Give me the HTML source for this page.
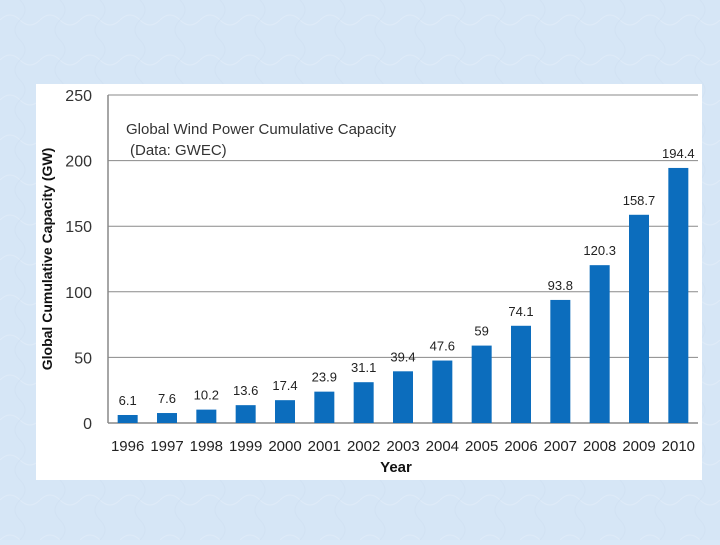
<!DOCTYPE html>
<html><head><meta charset="utf-8"><style>
body{margin:0;width:720px;height:540px;overflow:hidden;background:#d9e8f7;font-family:"Liberation Sans",sans-serif;}
</style></head><body>
<svg width="720" height="540">
<defs><pattern id="p" width="40" height="40" patternUnits="userSpaceOnUse"><rect width="40" height="40" fill="#d6e6f6"/><path d="M0 20 Q10 10 20 20 T40 20" stroke="#dfebf8" fill="none"/><path d="M20 0 Q30 10 20 20 T20 40" stroke="#d2e2f3" fill="none"/></pattern></defs>
<rect width="720" height="540" fill="url(#p)"/>
<rect x="36" y="84" width="666" height="396" fill="#fff"/>
<g id="grid"></g>
<g id="bars"></g>
<g id="ticks" font-size="16" fill="#333"></g>
<text x="126" y="134" font-size="15" fill="#333">Global Wind Power Cumulative Capacity</text>
<text x="130" y="155" font-size="15" fill="#333">(Data: GWEC)</text>
<text transform="translate(52,259) rotate(-90)" text-anchor="middle" font-size="14" font-weight="bold" fill="#111">Global Cumulative Capacity (GW)</text>
<text x="396" y="472" text-anchor="middle" font-size="15" font-weight="bold" fill="#111">Year</text>
</svg>
<script>
const years=["1996","1997","1998","1999","2000","2001","2002","2003","2004","2005","2006","2007","2008","2009","2010"];
const values=[6.1,7.6,10.2,13.6,17.4,23.9,31.1,39.4,47.6,59,74.1,93.8,120.3,158.7,194.4];
const labels=["6.1","7.6","10.2","13.6","17.4","23.9","31.1","39.4","47.6","59","74.1","93.8","120.3","158.7","194.4"];
const yTicks=[0,50,100,150,200,250];
const NS="http://www.w3.org/2000/svg";
const X0=108,X1=698,Y0=423,Y1=95,YMAX=250;
const y=v=>Y0-(v/YMAX)*(Y0-Y1);
const bw=(X1-X0)/years.length;
const x=i=>X0+bw*(i+0.5);
function mk(t,a,p){const e=document.createElementNS(NS,t);for(const k in a)e.setAttribute(k,a[k]);p.appendChild(e);return e;}
const g=document.getElementById('grid'),b=document.getElementById('bars'),tk=document.getElementById('ticks');
yTicks.forEach(v=>{
 if(v>0){const l=mk('line',{x1:X0,x2:X1,y1:y(v),y2:y(v),stroke:'#8a8a8a','stroke-width':1},g);
 
 }
 const t=mk('text',{x:92,y:y(v)+6,'text-anchor':'end'},tk);t.textContent=v;
 
 
});
const ax=mk('line',{x1:X0,x2:X0,y1:Y1,y2:Y0,stroke:'#888','stroke-width':1.5},g);


const xa=mk('line',{x1:X0,x2:X1,y1:Y0,y2:Y0,stroke:'#888','stroke-width':1.5},g);


years.forEach((yr,i)=>{
 const r=mk('rect',{x:x(i)-10,y:y(values[i]),width:20,height:Y0-y(values[i]),fill:'#0c6dbd'},b);
 
 
 const l=mk('text',{x:x(i),y:y(values[i])-10,'text-anchor':'middle','font-size':13,fill:'#222'},b);l.textContent=labels[i];
 
 
 const t=mk('text',{x:x(i),y:451,'text-anchor':'middle','font-size':15,fill:'#222'},tk);t.textContent=yr;
 
 
});
</script>
</body></html>
